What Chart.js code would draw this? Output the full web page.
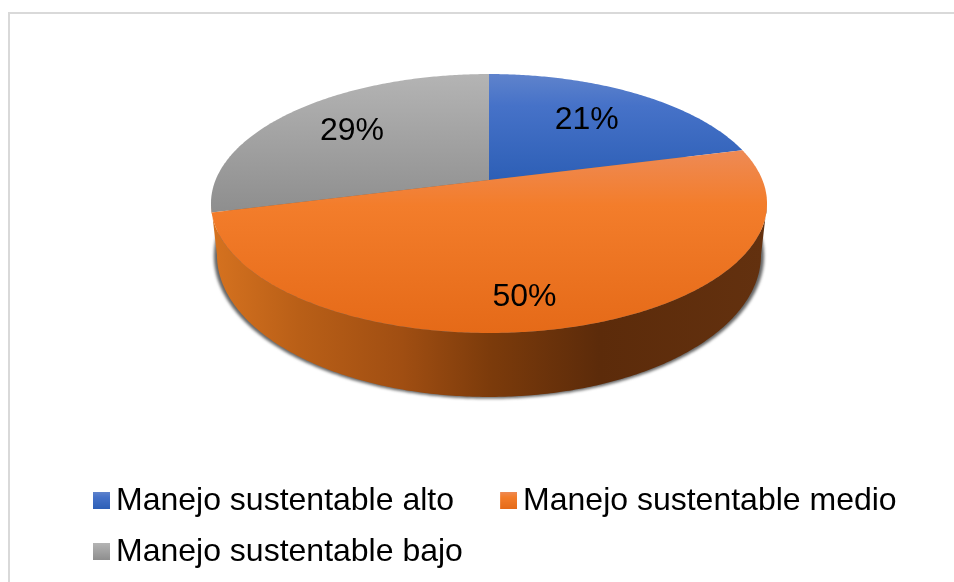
<!DOCTYPE html>
<html>
<head>
<meta charset="utf-8">
<title>Manejo sustentable</title>
<script src="https://cdn.jsdelivr.net/npm/chart.js@4"></script>
<style>
html,body{margin:0;padding:0;background:#fff;overflow:hidden;width:954px;height:582px}
#frame{position:absolute;left:8px;top:12px;right:-4px;bottom:-4px;border-left:2px solid #d9d9d9;border-top:2px solid #d9d9d9}
#myChart{position:absolute;left:0;top:0}
</style>
</head>
<body>
<div id="frame"></div>
<canvas id="myChart" width="954" height="578"></canvas>
<script>
'use strict';
//data
let categories=['Manejo sustentable alto','Manejo sustentable medio','Manejo sustentable bajo'];
let shares=[21,50,29];

//flat colours and top to bottom colours of every slice
let flatColors=['#3f6fc4','#f07a28','#a3a3a3'];
let faceStops=[
  [[0,'#5f83cc'],[0.3,'#4672c8'],[1,'#2d5fb6']],
  [[0,'#ee8a55'],[0.3,'#f37d2b'],[1,'#e56a18']],
  [[0,'#b4b4b4'],[1,'#8e8e8e']]
];
let wallStops=[[0,'#d4711f'],[0.15,'#b95f17'],[0.34,'#a04e12'],[0.5,'#7c3b0b'],[0.7,'#5c2b0a'],[1,'#63310f']];

//where the disc sits on the page, with the perspective of the tilted pie
let topDisc={x:489,y:180,a:273.4,b:125.2,k:0.1815};
let lowDisc={x:489,y:229.2,a:267.5,b:137.3,k:0.1815};
let shadowDisc={x:489,y:230,a:270.5,b:138,k:0.1815};

//percent labels: how far out on the slice, and a small turn in degrees
let labelRadius=[0.672,0.798,0.697];
let labelTurn=[-2,6.4,1.3];
let chartFont='"Liberation Sans", Arial, sans-serif';
let bigText=32;

function project(disc,angle,r){
  //angle comes from the arc element, 0 points right like canvas does
  let u=r*Math.cos(angle);
  let v=r*Math.sin(angle);
  let w=1-disc.k*v;
  return {x:disc.x+disc.a*u/w,y:disc.y+disc.b*v/w};
}

function traceRim(ctx,disc,from,to){
  let steps=Math.ceil(Math.abs(to-from)/0.01);
  for(let i=0;i<=steps;i++){
    let p=project(disc,from+(to-from)*i/steps,1);
    ctx.lineTo(p.x,p.y);
  }
}

function makeGradient(ctx,x0,y0,x1,y1,stops){
  let g=ctx.createLinearGradient(x0,y0,x1,y1);
  stops.forEach(function(s){g.addColorStop(s[0],s[1]);});
  return g;
}

//3d look: the arcs keep the angles of the pie controller, only the drawing is tilted
let tiltedPie={
  id:'tiltedPie',
  beforeDatasetDraw(chart,args){
    let ctx=chart.ctx;
    let arcs=chart.getDatasetMeta(args.index).data;
    let side=Math.asin(topDisc.k);
    ctx.save();

    //shadow under the pie
    ctx.save();
    ctx.filter='blur(1.5px)';
    ctx.fillStyle='#666';
    ctx.beginPath();
    traceRim(ctx,shadowDisc,0,Math.PI*2);
    ctx.closePath();
    ctx.fill();
    ctx.restore();

    //front wall
    ctx.fillStyle=makeGradient(ctx,217,0,763,0,wallStops);
    ctx.beginPath();
    traceRim(ctx,topDisc,side,Math.PI-side);
    traceRim(ctx,lowDisc,Math.PI-side,side);
    ctx.closePath();
    ctx.fill();

    //top faces, the orange last so its edges stay clean
    [2,0,1].forEach(function(i){
      let arc=arcs[i];
      let edge=project(topDisc,arc.startAngle,1);
      let top=i===1?project(topDisc,arc.startAngle,1).y:74;
      let bottom=i===0?180:(i===1?333:212);
      ctx.fillStyle=makeGradient(ctx,0,top,0,bottom,faceStops[i]);
      ctx.beginPath();
      ctx.moveTo(topDisc.x,topDisc.y);
      ctx.lineTo(edge.x,edge.y);
      traceRim(ctx,topDisc,arc.startAngle,arc.endAngle);
      ctx.closePath();
      ctx.fill();
    });
    ctx.restore();
    return false;
  },
  afterDatasetsDraw(chart){
    let ctx=chart.ctx;
    let arcs=chart.getDatasetMeta(0).data;
    let total=shares.reduce(function(a,b){return a+b;},0);
    ctx.save();
    ctx.fillStyle='#000';
    ctx.font=bigText+'px '+chartFont;
    ctx.textAlign='center';
    ctx.textBaseline='middle';
    arcs.forEach(function(arc,i){
      let mid=(arc.startAngle+arc.endAngle)/2+labelTurn[i]*Math.PI/180;
      let p=project(topDisc,mid,labelRadius[i]);
      ctx.fillText(Math.round(shares[i]/total*100)+'%',p.x,p.y+2);
    });
    ctx.restore();
  }
};

//legend swatch, a small canvas so it can have the same gradient as the slice
function makeSwatch(i){
  let c=document.createElement('canvas');
  c.width=21;
  c.height=18;
  let sctx=c.getContext('2d');
  sctx.fillStyle=makeGradient(sctx,0,0,0,17,faceStops[i]);
  sctx.fillRect(4,0,17,17);
  return c;
}

let ctx=document.getElementById('myChart').getContext('2d');
let myChart=new Chart(ctx,{
  type:'pie',
  data:{
    labels:categories,
    datasets:[{data:shares,backgroundColor:flatColors,borderWidth:0}]
  },
  options:{
    responsive:false,
    animation:false,
    layout:{padding:{left:80}},
    plugins:{
      tooltip:{enabled:false},
      legend:{
        position:'bottom',
        align:'start',
        labels:{
          color:'#000',
          font:{family:chartFont,size:bigText},
          padding:19,
          usePointStyle:true,
          pointStyleWidth:1,
          generateLabels(chart){
            let items=Chart.overrides.pie.plugins.legend.labels.generateLabels(chart);
            items.forEach(function(item,i){
              item.pointStyle=makeSwatch(i);
              //the first row has a wider gap than the row spacing allows
              if(i===0){item.text=item.text+'   \u2009';}
            });
            return items;
          }
        }
      }
    }
  },
  plugins:[tiltedPie]
});
</script>
</body>
</html>
